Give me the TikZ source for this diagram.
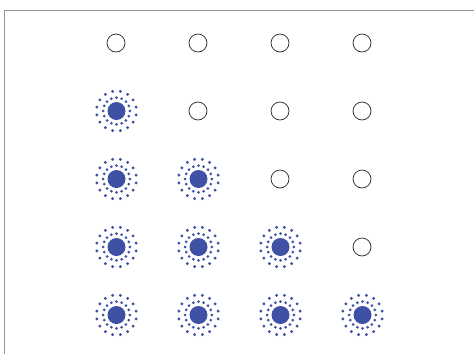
\documentclass[tikz,border=0pt]{standalone}
\definecolor{dotblue}{RGB}{63,81,165}
\definecolor{framegray}{RGB}{150,150,150}
\tikzset{
  emptyc/.style={circle,draw=black!85,line width=0.7pt,minimum size=18pt,inner sep=0pt},
  fullc/.style={circle,fill=dotblue,minimum size=18pt,inner sep=0pt},
}
\begin{document}
\begin{tikzpicture}[x=1pt,y=-1pt]
\useasboundingbox (0,0) rectangle (474,354);
\fill[white] (0,0) rectangle (474,354);
\draw[framegray,line width=0.8pt] (4,354) -- (4,10.5) -- (474,10.5);
\foreach \r/\yy in {0/43,1/111,2/179,3/247,4/315}{
  \foreach \c/\xx in {0/116,1/198,2/280,3/362}{
    \ifnum\c<\r
      \node[fullc] (n\r\c) at (\xx+0.5,\yy) {};
      \foreach \k in {0,...,15}{
        \fill[dotblue] (n\r\c.center) ++({\k*22.5}:13.3) circle (1.5);
        \fill[dotblue] (n\r\c.center) ++({\k*22.5+11.25}:20) circle (1.6);
      }
    \else
      \node[emptyc] (n\r\c) at (\xx,\yy) {};
    \fi
  }
}
\end{tikzpicture}
\end{document}
